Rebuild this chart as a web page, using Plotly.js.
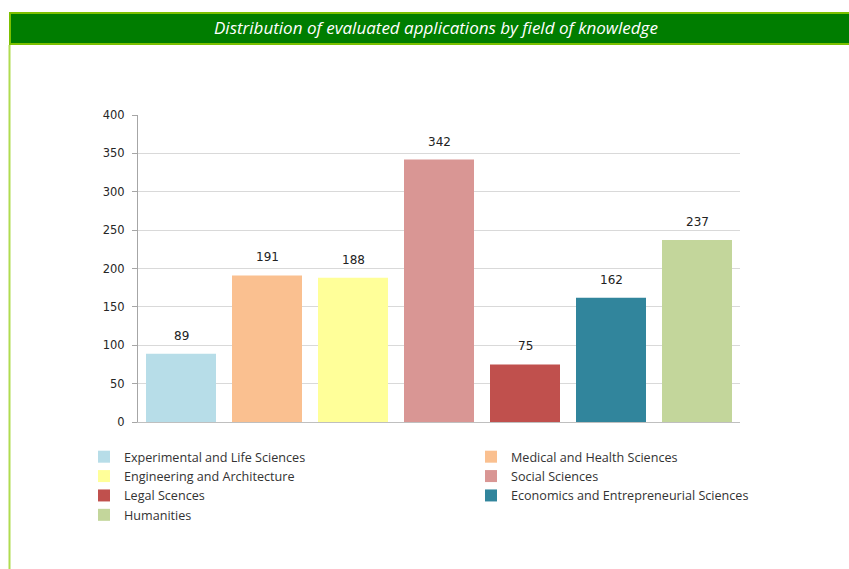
<!DOCTYPE html>
<html>
<head>
<meta charset="utf-8">
<script src="https://cdn.plot.ly/plotly-3.0.1.min.js"></script>
<style>html,body{margin:0;padding:0;background:#fff;}#chart{width:849px;height:569px;}</style>
</head>
<body>
<div id="chart"></div>
<script>
const categories = [
  "Experimental and Life Sciences",
  "Medical and Health Sciences",
  "Engineering and Architecture",
  "Social Sciences",
  "Legal Scences",
  "Economics and Entrepreneurial Sciences",
  "Humanities"
];
const values = [89, 191, 188, 342, 75, 162, 237];
const colors = ["#b7dde8", "#fac090", "#ffff99", "#d99694", "#c0504d", "#31859c", "#c3d69b"];
const legendColumn = ["legend", "legend2", "legend", "legend2", "legend", "legend2", "legend"];
const yTicks = [0, 50, 100, 150, 200, 250, 300, 350, 400];
const titleText = "Distribution of evaluated applications by field of knowledge";

const traces = categories.map((c, i) => ({
  type: "bar",
  name: c,
  x: [c],
  y: [values[i]],
  marker: {color: colors[i], line: {width: 0}},
  legend: legendColumn[i],
  hoverinfo: "x+y"
}));

const annotations = categories.map((c, i) => ({
  x: c, y: values[i], xref: "x", yref: "y",
  text: String(values[i]), showarrow: false,
  yanchor: "middle", yshift: 18,
  font: {family: "DejaVu Sans", size: 12, color: "#222"}
}));

const legendFont = {family: "Open Sans", size: 12.6, color: "#333"};

const layout = {
  width: 849, height: 569,
  margin: {l: 138, r: 109, t: 115, b: 147, pad: 0},
  paper_bgcolor: "#fff", plot_bgcolor: "#fff",
  barmode: "overlay",
  bargap: 0.186,
  title: {
    text: titleText,
    font: {family: "Open Sans", size: 17, color: "#ffffff", style: "italic"},
    xref: "container", x: 0.5135, xanchor: "center",
    yref: "container", y: 1 - 28 / 569, yanchor: "middle"
  },
  xaxis: {
    type: "category", categoryorder: "array", categoryarray: categories,
    showticklabels: false, ticks: "",
    showline: true, linecolor: "#bfbfbf", linewidth: 1,
    showgrid: false, zeroline: false, fixedrange: true
  },
  yaxis: {
    range: [0, 400], tickvals: yTicks, ticktext: yTicks.map(String),
    showgrid: true, gridcolor: "#d9d9d9", gridwidth: 1,
    showline: true, linecolor: "#a6a6a6", linewidth: 1,
    ticks: "outside", ticklen: 5, tickcolor: "#a6a6a6",
    ticklabelstandoff: 5,
    tickfont: {family: "DejaVu Sans", size: 11.5, color: "#262626"},
    zeroline: false, fixedrange: true
  },
  legend: {
    orientation: "v", x: (84 - 138) / 602, xanchor: "left",
    y: (422 - 442) / 307, yanchor: "top",
    font: legendFont,
    bgcolor: "rgba(0,0,0,0)", tracegroupgap: 0, traceorder: "normal"
  },
  legend2: {
    orientation: "v", x: (471 - 138) / 602, xanchor: "left",
    y: (422 - 442) / 307, yanchor: "top",
    font: legendFont,
    bgcolor: "rgba(0,0,0,0)", tracegroupgap: 0, traceorder: "normal"
  },
  shapes: [
    {type: "rect", xref: "paper", yref: "paper", layer: "below",
     x0: (10 - 138) / 602, x1: (852 - 138) / 602,
     y0: (422 - 44) / 307, y1: (422 - 13) / 307,
     fillcolor: "#007d00", line: {color: "#7cc000", width: 2}},
    {type: "line", xref: "paper", yref: "paper",
     x0: (9.5 - 138) / 602, x1: (9.5 - 138) / 602,
     y0: (422 - 45) / 307, y1: (422 - 572) / 307,
     line: {color: "#b0dc50", width: 2}}
  ],
  annotations: annotations
};

Plotly.newPlot("chart", traces, layout, {displayModeBar: false, staticPlot: true});
</script>
</body>
</html>
